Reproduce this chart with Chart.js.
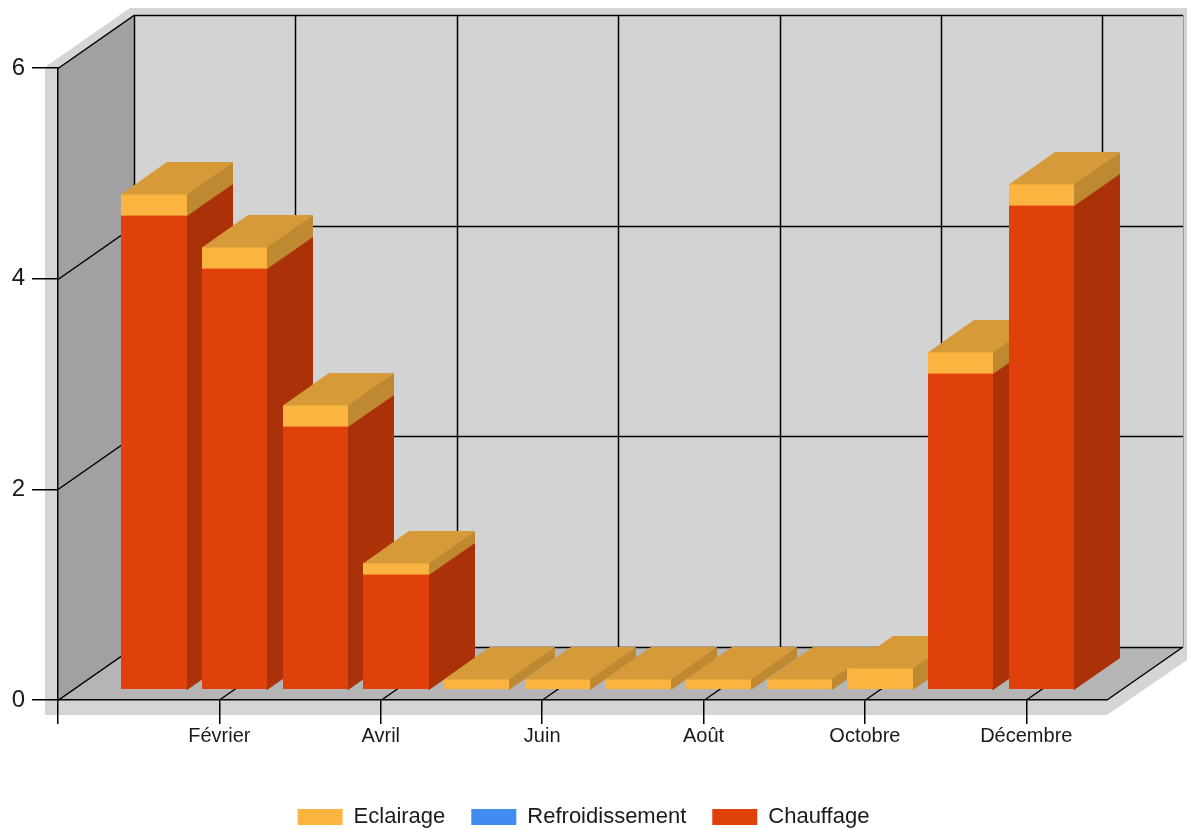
<!DOCTYPE html>
<html>
<head>
<meta charset="utf-8">
<script src="https://cdn.jsdelivr.net/npm/chart.js@4/dist/chart.umd.min.js"></script>
<style>
  html, body { margin: 0; padding: 0; background: #ffffff; }
  #wrap { width: 1188px; height: 829px; }
</style>
</head>
<body>
<div id="wrap"><canvas id="c" width="1188" height="829"></canvas></div>
<script>
// ---- data ----
const categories = ['Janvier', 'Février', 'Mars', 'Avril', 'Mai', 'Juin',
                    'Juillet', 'Août', 'Septembre', 'Octobre', 'Novembre', 'Décembre'];
const chauffage       = [4.5, 4.0, 2.5, 1.1, 0, 0, 0, 0, 0, 0, 3.0, 4.6];
const refroidissement = [0, 0, 0, 0, 0, 0, 0, 0, 0, 0, 0, 0];
const eclairage       = [0.2, 0.2, 0.2, 0.1, 0.1, 0.1, 0.1, 0.1, 0.1, 0.2, 0.2, 0.2];
const yTicks = [0, 2, 4, 6];

// ---- styles ----
const seriesStyle = {
  Chauffage:       { front: '#E0400A', side: '#AA3108', top: '#BE3709' },
  Refroidissement: { front: '#418CF0', side: '#316AB6', top: '#3777CC' },
  Eclairage:       { front: '#FCB441', side: '#BF8931', top: '#D69A38' }
};
const DEPTH = { x: 76, y: -53 };   // depth vector of the 3D box
const T1 = 0.2, T2 = 0.8;          // bar depth span inside the box

function toPoints(arr) { return arr.map((v, i) => ({ x: i + 1, y: v })); }

const three = {
  id: 'three',
  beforeDraw(chart) {
    const ctx = chart.ctx, ca = chart.chartArea;
    const xs = chart.scales.x, ys = chart.scales.y;
    const L = ca.left, R = ca.right, T = ca.top, B = ca.bottom;
    const dx = DEPTH.x, dy = DEPTH.y;
    ctx.save();
    // outer wall thickness
    ctx.fillStyle = '#d5d5d5';
    ctx.beginPath();
    ctx.moveTo(L - 13, T - 1);
    ctx.lineTo(L + dx - 4, T + dy - 7);
    ctx.lineTo(R + dx + 4, T + dy - 7);
    ctx.lineTo(R + dx + 4, B + dy + 13);
    ctx.lineTo(R, B + 15);
    ctx.lineTo(L - 13, B + 15);
    ctx.closePath();
    ctx.fill();
    // back wall
    ctx.fillStyle = '#d3d3d3';
    ctx.fillRect(L + dx, T + dy, R - L, B - T);
    ctx.strokeStyle = '#9a9a9a';
    ctx.lineWidth = 1;
    ctx.beginPath();
    ctx.moveTo(R + dx + 0.5, T + dy);
    ctx.lineTo(R + dx + 0.5, B + dy);
    ctx.stroke();
    // left wall
    ctx.fillStyle = '#a1a1a1';
    ctx.beginPath();
    ctx.moveTo(L, T); ctx.lineTo(L + dx, T + dy); ctx.lineTo(L + dx, B + dy); ctx.lineTo(L, B);
    ctx.closePath(); ctx.fill();
    // floor
    ctx.fillStyle = '#b5b5b5';
    ctx.beginPath();
    ctx.moveTo(L, B); ctx.lineTo(L + dx, B + dy); ctx.lineTo(R + dx, B + dy); ctx.lineTo(R, B);
    ctx.closePath(); ctx.fill();

    // grid lines
    ctx.strokeStyle = '#000000';
    ctx.lineWidth = 1.5;
    ctx.beginPath();
    yTicks.forEach(v => {
      const py = Math.round(ys.getPixelForValue(v)) + 0.5;
      ctx.moveTo(L, py); ctx.lineTo(L + dx, py + dy);
      ctx.lineTo(R + dx, py + dy);
    });
    xs.ticks.forEach(t => {
      const px = Math.round(xs.getPixelForValue(t.value)) + 0.5;
      ctx.moveTo(px, B); ctx.lineTo(px + dx, B + dy);
      ctx.lineTo(px + dx, T + dy);
    });
    ctx.moveTo(R, B); ctx.lineTo(R + dx, B + dy);
    ctx.stroke();
    ctx.restore();
  },
  beforeDatasetDraw() { return false; },
  afterDatasetsDraw(chart) {
    const ctx = chart.ctx;
    const metas = chart.getSortedVisibleDatasetMetas().slice().sort((a, b) => a.index - b.index);
    const ox = DEPTH.x * T1, oy = DEPTH.y * T1;
    const ddx = Math.round(DEPTH.x * (T2 - T1)), ddy = Math.round(DEPTH.y * (T2 - T1));
    ctx.save();
    for (let i = 0; i < categories.length; i++) {
      let topSeg = null;
      metas.forEach(meta => {
        const el = meta.data[i];
        if (!el) return;
        const p = el.getProps(['x', 'y', 'base', 'width'], true);
        const h = p.base - p.y;
        if (Math.abs(h) < 0.5) return;
        const st = seriesStyle[chart.data.datasets[meta.index].label];
        const left = Math.round(p.x - p.width / 2 + ox), right = Math.round(p.x + p.width / 2 + ox);
        const top = Math.round(p.y + oy), bottom = Math.round(p.base + oy);
        // side face (drawn first, slightly overlapping the front)
        ctx.fillStyle = st.side;
        ctx.beginPath();
        ctx.moveTo(right - 1, bottom); ctx.lineTo(right - 1, top);
        ctx.lineTo(right + ddx, top + ddy); ctx.lineTo(right + ddx, bottom + ddy + 1);
        ctx.lineTo(right, bottom + 1);
        ctx.closePath(); ctx.fill();
        // front face
        ctx.fillStyle = st.front;
        ctx.fillRect(left, top, right - left, bottom - top + (topSeg ? 0.6 : 0));
        topSeg = { left, right, top, st };
      });
      if (topSeg) {
        ctx.fillStyle = topSeg.st.top;
        ctx.beginPath();
        ctx.moveTo(topSeg.left, topSeg.top + 0.6); ctx.lineTo(topSeg.right, topSeg.top + 0.6);
        ctx.lineTo(topSeg.right + ddx, topSeg.top + ddy); ctx.lineTo(topSeg.left + ddx, topSeg.top + ddy);
        ctx.closePath(); ctx.fill();
      }
    }
    ctx.restore();
  }
};

new Chart(document.getElementById('c'), {
  type: 'bar',
  data: {
    datasets: [
      { label: 'Chauffage', data: toPoints(chauffage), backgroundColor: seriesStyle.Chauffage.front },
      { label: 'Refroidissement', data: toPoints(refroidissement), backgroundColor: seriesStyle.Refroidissement.front },
      { label: 'Eclairage', data: toPoints(eclairage), backgroundColor: seriesStyle.Eclairage.front }
    ]
  },
  options: {
    responsive: false,
    animation: false,
    devicePixelRatio: 1,
    categoryPercentage: 0.81,
    barPercentage: 1,
    layout: { padding: { left: 0, top: 68, right: 21, bottom: -9 } },
    plugins: {
      tooltip: { enabled: false },
      legend: {
        position: 'bottom',
        reverse: true,
        labels: {
          boxWidth: 45, boxHeight: 16, padding: 26,
          color: '#1a1a1a',
          font: { family: 'Liberation Sans, Arial, sans-serif', size: 22 }
        }
      }
    },
    scales: {
      x: {
        type: 'linear',
        min: 0, max: 13,
        offset: false,
        stacked: true,
        grid: { offset: false, drawOnChartArea: false, drawTicks: true, tickLength: 24, color: '#000000', lineWidth: 1.5 },
        border: { display: true, color: '#000000', width: 1.5 },
        afterBuildTicks: s => { s.ticks = s.ticks.filter(t => t.value % 2 === 0 && t.value <= 12); },
        afterFit: s => { s.height = 80; },
        ticks: {
          stepSize: 2, autoSkip: false, maxRotation: 0, padding: 0,
          color: '#1a1a1a',
          font: { family: 'Liberation Sans, Arial, sans-serif', size: 20 },
          callback: v => (v >= 1 && v <= categories.length ? categories[v - 1] : '')
        }
      },
      y: {
        min: 0, max: 6,
        stacked: true,
        grid: { drawOnChartArea: false, drawTicks: true, tickLength: 26, color: '#000000', lineWidth: 1.5 },
        border: { display: true, color: '#000000', width: 1.5 },
        afterFit: s => { s.width = 58; },
        ticks: {
          stepSize: 2, padding: 7,
          color: '#1a1a1a',
          font: { family: 'Liberation Sans, Arial, sans-serif', size: 24 }
        }
      },
      spacer: {
        type: 'linear',
        position: 'right',
        display: true,
        grid: { display: false, drawTicks: false },
        border: { display: false },
        ticks: { display: false },
        afterFit: s => { s.width = 60; }
      }
    }
  },
  plugins: [three]
});
</script>
</body>
</html>
